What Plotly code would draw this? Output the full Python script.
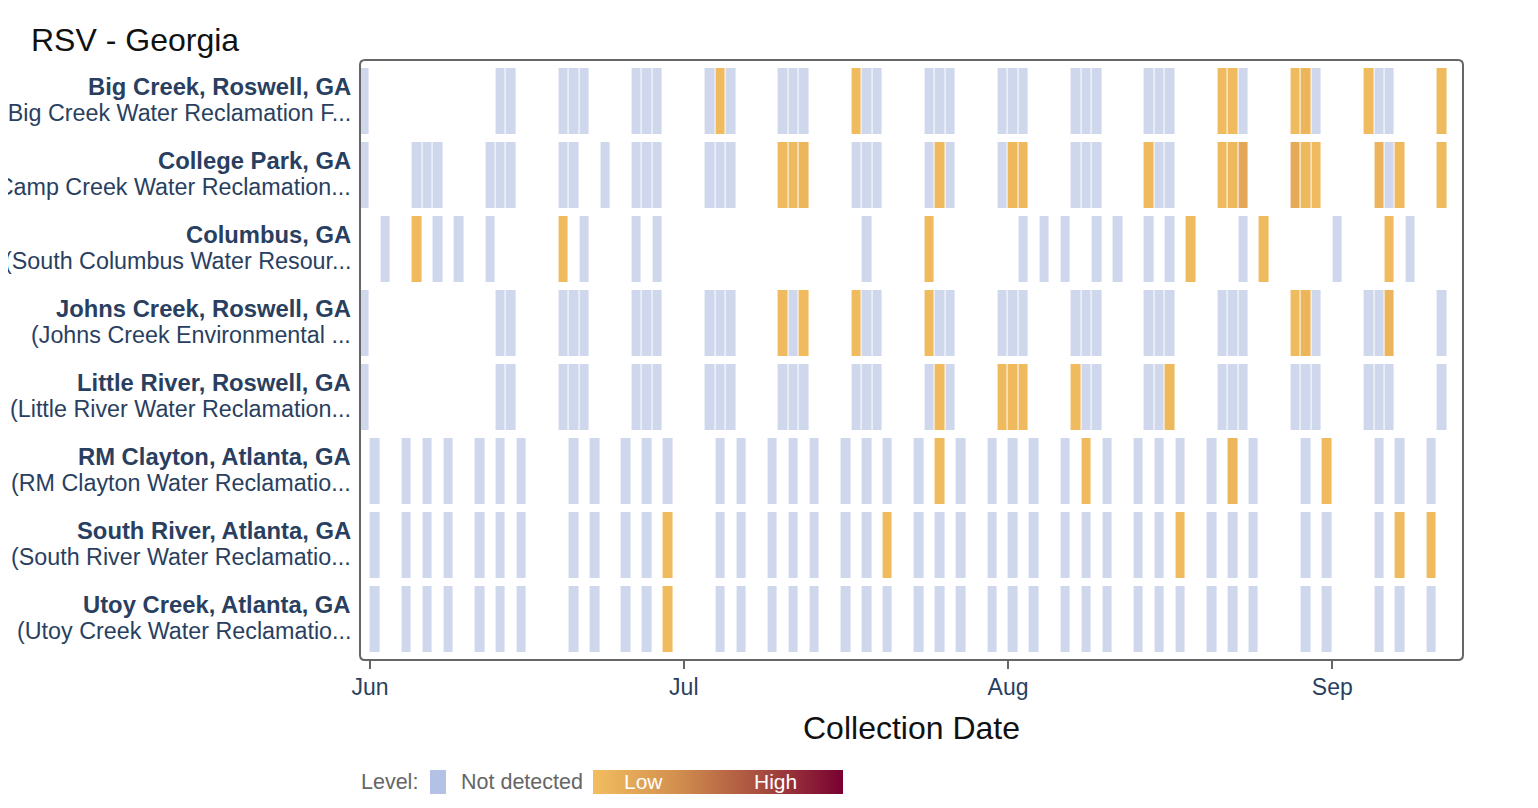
import numpy as np
import pandas as pd
import plotly.graph_objects as go

YEAR = "2023"

sites = [
    "Big Creek, Roswell, GA",
    "College Park, GA",
    "Columbus, GA",
    "Johns Creek, Roswell, GA",
    "Little River, Roswell, GA",
    "RM Clayton, Atlanta, GA",
    "South River, Atlanta, GA",
    "Utoy Creek, Atlanta, GA",
]
facilities = [
    "(Big Creek Water Reclamation F...",
    "(Camp Creek Water Reclamation...",
    "(South Columbus Water Resour...",
    "(Johns Creek Environmental ...",
    "(Little River Water Reclamation...",
    "(RM Clayton Water Reclamatio...",
    "(South River Water Reclamatio...",
    "(Utoy Creek Water Reclamatio...",
]

# sample dates (MM-DD) per schedule
mon_wed_dates = [
    "05-31", "06-13", "06-14", "06-19", "06-20", "06-21", "06-26", "06-27", "06-28",
    "07-03", "07-04", "07-05", "07-10", "07-11", "07-12", "07-17", "07-18", "07-19",
    "07-24", "07-25", "07-26", "07-31", "08-01", "08-02", "08-07", "08-08", "08-09",
    "08-14", "08-15", "08-16", "08-21", "08-22", "08-23", "08-28", "08-29", "08-30",
    "09-04", "09-05", "09-06", "09-11",
]
college_park_dates = [
    "05-31", "06-05", "06-06", "06-07", "06-12", "06-13", "06-14", "06-19", "06-20",
    "06-23", "06-26", "06-27", "06-28", "07-03", "07-04", "07-05", "07-10", "07-11",
    "07-12", "07-17", "07-18", "07-19", "07-24", "07-25", "07-26", "07-31", "08-01",
    "08-02", "08-07", "08-08", "08-09", "08-14", "08-15", "08-16", "08-21", "08-22",
    "08-23", "08-28", "08-29", "08-30", "09-05", "09-06", "09-07", "09-11",
]
columbus_dates = [
    "06-02", "06-05", "06-07", "06-09", "06-12", "06-19", "06-21", "06-26", "06-28",
    "07-18", "07-24", "08-02", "08-04", "08-06", "08-09", "08-11", "08-14", "08-16",
    "08-18", "08-23", "08-25", "09-01", "09-06", "09-08",
]
sun_tue_thu_dates = [
    "06-01", "06-04", "06-06", "06-08", "06-11", "06-13", "06-15", "06-20", "06-22",
    "06-25", "06-27", "06-29", "07-04", "07-06", "07-09", "07-11", "07-13", "07-16",
    "07-18", "07-20", "07-23", "07-25", "07-27", "07-30", "08-01", "08-03", "08-06",
    "08-08", "08-10", "08-13", "08-15", "08-17", "08-20", "08-22", "08-24", "08-29",
    "08-31", "09-05", "09-07", "09-10",
]

# detections (date, level) per site
big_creek_hits = ["07-04", "07-17", "08-21", "08-22", "08-28", "08-29", "09-04", "09-11"]
big_creek_levels = [0.02, 0.02, 0.02, 0.02, 0.02, 0.06, 0.02, 0.03]
college_park_hits = ["07-10", "07-11", "07-12", "07-25", "08-01", "08-02", "08-14", "08-21",
                     "08-22", "08-23", "08-28", "08-29", "08-30", "09-05", "09-07", "09-11"]
college_park_levels = [0.02, 0.03, 0.05, 0.03, 0.04, 0.04, 0.03, 0.03,
                       0.04, 0.16, 0.13, 0.04, 0.02, 0.07, 0.03, 0.03]
columbus_hits = ["06-05", "06-19", "07-24", "08-18", "08-25", "09-06"]
columbus_levels = [0.02, 0.02, 0.02, 0.02, 0.02, 0.02]
johns_creek_hits = ["07-10", "07-12", "07-17", "07-24", "08-28", "08-29", "09-06"]
johns_creek_levels = [0.02, 0.02, 0.02, 0.02, 0.02, 0.06, 0.06]
little_river_hits = ["07-25", "07-31", "08-01", "08-02", "08-07", "08-16"]
little_river_levels = [0.02, 0.03, 0.03, 0.03, 0.02, 0.04]
rm_clayton_hits = ["07-25", "08-08", "08-22", "08-31"]
rm_clayton_levels = [0.02, 0.02, 0.05, 0.02]
south_river_hits = ["06-29", "07-20", "08-17", "09-07", "09-10"]
south_river_levels = [0.02, 0.02, 0.02, 0.02, 0.02]
utoy_creek_hits = ["06-29"]
utoy_creek_levels = [0.02]

site_dates = [mon_wed_dates, college_park_dates, columbus_dates, mon_wed_dates,
              mon_wed_dates, sun_tue_thu_dates, sun_tue_thu_dates, sun_tue_thu_dates]
site_hits = [
    (big_creek_hits, big_creek_levels),
    (college_park_hits, college_park_levels),
    (columbus_hits, columbus_levels),
    (johns_creek_hits, johns_creek_levels),
    (little_river_hits, little_river_levels),
    (rm_clayton_hits, rm_clayton_levels),
    (south_river_hits, south_river_levels),
    (utoy_creek_hits, utoy_creek_levels),
]

days = pd.date_range(YEAR + "-05-31", YEAR + "-09-11", freq="D")
not_detected = np.full((len(sites), len(days)), np.nan)
level = np.full((len(sites), len(days)), np.nan)
for i, dates in enumerate(site_dates):
    for d in dates:
        not_detected[i, days.get_loc(pd.Timestamp(YEAR + "-" + d))] = 1
    for d, v in zip(*site_hits[i]):
        j = days.get_loc(pd.Timestamp(YEAR + "-" + d))
        not_detected[i, j] = np.nan
        level[i, j] = v

level_scale = [[0, "#f2bd5f"], [0.33, "#d3904f"], [0.66, "#a9503f"], [1, "#780031"]]
rows = list(range(len(sites)))

# page body has an 8px margin, so the figure is shifted by that much
W, H = 1530, 800

fig = go.Figure()
fig.add_trace(go.Heatmap(
    x=days, y=rows, z=not_detected,
    xperiod=86400000, xperiodalignment="middle",
    colorscale=[[0, "#cfd7ec"], [1, "#cfd7ec"]], showscale=False,
    xgap=1, ygap=8, hoverinfo="skip",
))
fig.add_trace(go.Heatmap(
    x=days, y=rows, z=level,
    xperiod=86400000, xperiodalignment="middle",
    colorscale=level_scale, zmin=0, zmax=1,
    xgap=1, ygap=8, hoverinfo="skip",
    colorbar=dict(
        orientation="h", xref="paper", yref="paper",
        x=(718 - 360) / 1103, xanchor="center", y=(660 - 782) / 600, yanchor="middle",
        lenmode="pixels", len=250, thickness=24,
        outlinewidth=0, showticklabels=False, ticks="", xpad=0, ypad=0,
    ),
))

fig.update_layout(
    width=W, height=H,
    template="none",
    font=dict(family="Liberation Sans, Arial", color="#2a3f5f"),
    margin=dict(l=352, r=75, t=52, b=148),
    plot_bgcolor="white", paper_bgcolor="white",
    title=dict(text="RSV - Georgia", xref="container", yref="container",
               x=23 / W, xanchor="left", y=1 - 32 / H, yanchor="middle",
               font=dict(size=32, color="#111111")),
    showlegend=False,
)
fig.update_xaxes(
    type="date", range=[YEAR + "-05-31 01:00", YEAR + "-09-13 12:00"],
    tickvals=[YEAR + "-06-01", YEAR + "-07-01", YEAR + "-08-01", YEAR + "-09-01"],
    tickformat="%b", tickfont=dict(size=23, color="#2a3f5f"),
    ticks="outside", ticklen=8, tickwidth=2, tickcolor="#666666", ticklabelstandoff=-2,
    showgrid=False, zeroline=False, showline=False,
    title=dict(text="Collection Date", font=dict(size=32, color="#111111"), standoff=18),
    automargin=False,
)
fig.update_yaxes(
    range=[len(sites) - 0.446, -0.554],
    showticklabels=False, ticks="",
    showgrid=False, zeroline=False, showline=False,
    automargin=False,
)

# rounded frame round the plot area
rx, ry = 5 / 1103, 5 / 600
frame = ("M {rx},0 L {ax},0 Q 1,0 1,{ry} L 1,{ay} Q 1,1 {ax},1 L {rx},1 "
         "Q 0,1 0,{ay} L 0,{ry} Q 0,0 {rx},0 Z").format(rx=rx, ry=ry, ax=1 - rx, ay=1 - ry)
fig.add_shape(type="path", xref="paper", yref="paper", path=frame,
              line=dict(color="#666666", width=2))

# two-line row labels
for i, (s, f) in enumerate(zip(sites, facilities)):
    fig.add_annotation(text="<b>%s</b>" % s, xref="paper", yref="y", x=0, y=i,
                       xanchor="right", yanchor="middle", xshift=-7, yshift=15,
                       showarrow=False, font=dict(size=23.8, color="#2a3f5f"))
    fig.add_annotation(text=f, xref="paper", yref="y", x=0, y=i,
                       xanchor="right", yanchor="middle", xshift=-7, yshift=-12,
                       showarrow=False, font=dict(size=23.3, color="#2a3f5f"))

# custom legend
fig.add_shape(type="rect", xref="paper", yref="paper",
              x0=(430 - 360) / 1103, x1=(446 - 360) / 1103,
              y0=(660 - 770) / 600, y1=(660 - 794) / 600,
              fillcolor="#b3c1e5", line=dict(width=0))
legend_font = dict(size=21.5, color="#666666")
fig.add_annotation(text="Level:", xref="paper", yref="paper", x=(359 - 360) / 1103,
                   y=(660 - 782) / 600, xanchor="left", yanchor="middle",
                   showarrow=False, font=legend_font)
fig.add_annotation(text="Not detected", xref="paper", yref="paper", x=(459 - 360) / 1103,
                   y=(660 - 782) / 600, xanchor="left", yanchor="middle",
                   showarrow=False, font=legend_font)
for txt, px in [("Low", 643), ("High", 775)]:
    fig.add_annotation(text=txt, xref="paper", yref="paper", x=(px - 360) / 1103,
                       y=(660 - 781) / 600, xanchor="center", yanchor="middle",
                       showarrow=False, font=dict(size=21, color="white"))

fig.write_html("out.html")
